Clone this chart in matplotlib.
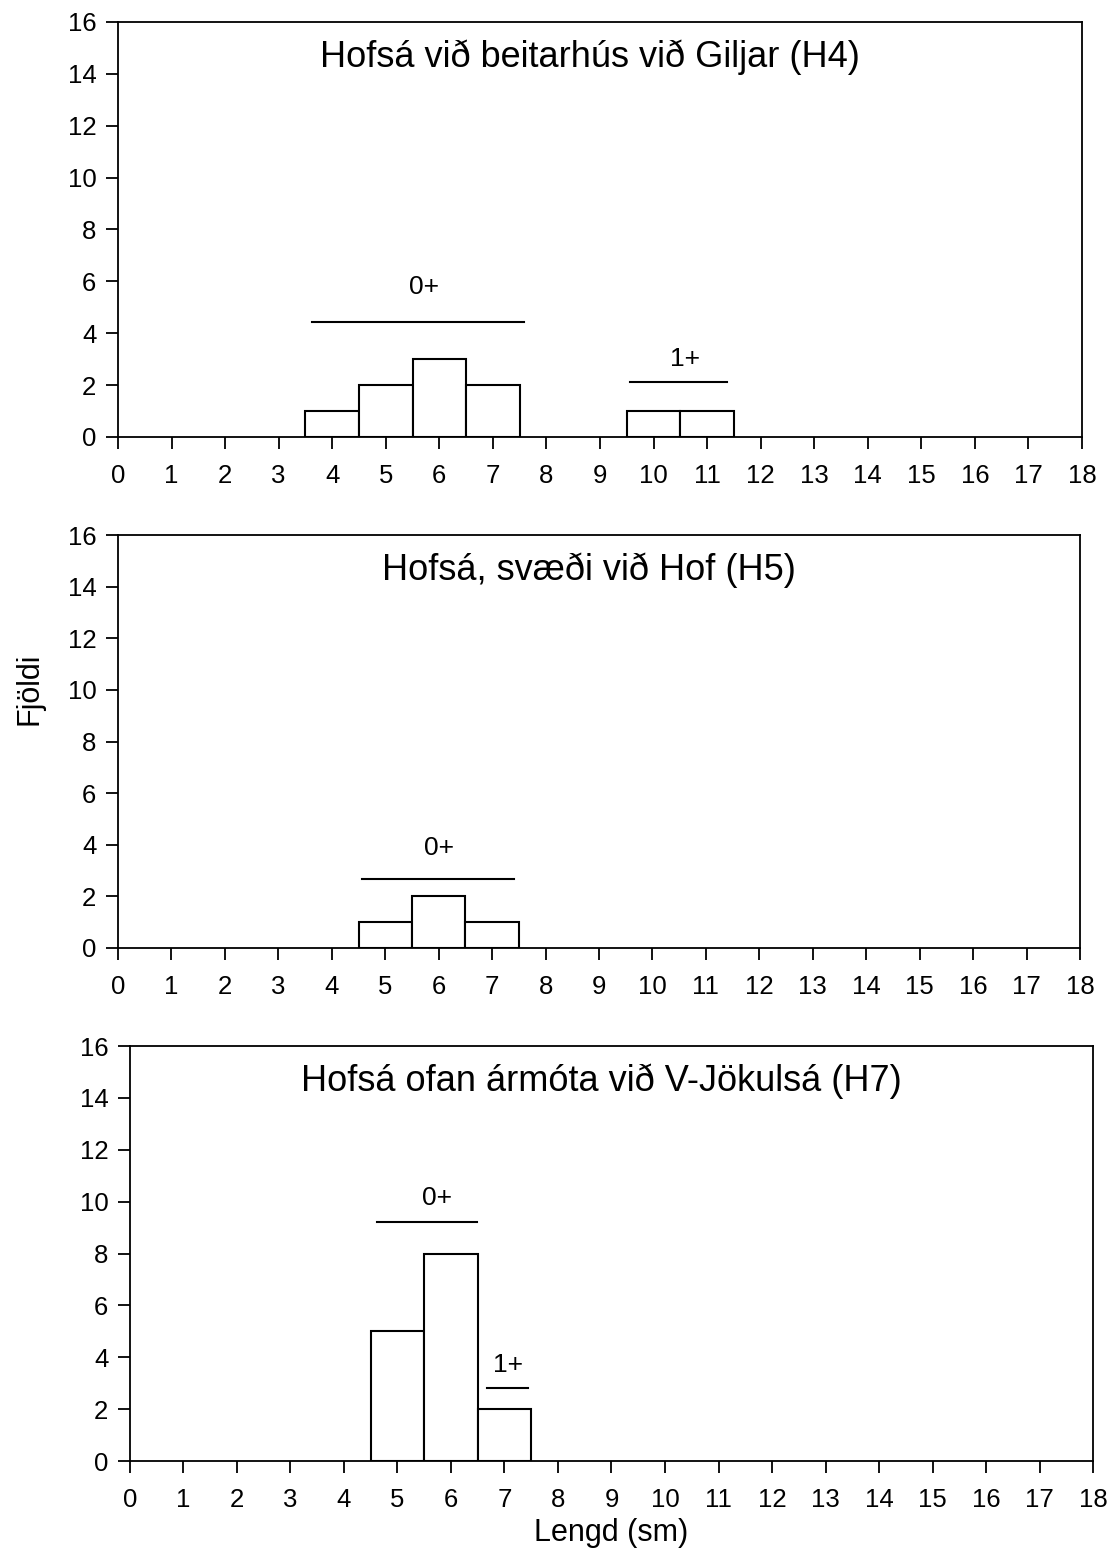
import matplotlib.pyplot as plt

plt.rcParams['font.family'] = ['Liberation Sans', 'DejaVu Sans']

# data
lengths = [4, 5, 6, 7, 10, 11]
h4_counts = [1, 2, 3, 2, 1, 1]
h5_lengths = [5, 6, 7]
h5_counts = [1, 2, 1]
h7_lengths = [5, 6, 7]
h7_counts = [5, 8, 2]

titles = ["Hofsá við beitarhús við Giljar (H4)",
          "Hofsá, svæði við Hof (H5)",
          "Hofsá ofan ármóta við V-Jökulsá (H7)"]

# age-group markers: (label, x0, x1, line y, text x, text y)
h4_groups = [("0+", 3.62, 7.58, 4.45, 5.71, 5.8), ("1+", 9.56, 11.37, 2.11, 10.59, 3.0)]
h5_groups = [("0+", 4.57, 7.41, 2.67, 6.0, 3.87)]
h7_groups = [("0+", 4.61, 6.49, 9.2, 5.73, 10.15), ("1+", 6.68, 7.43, 2.8, 7.07, 3.7)]

fig = plt.figure(figsize=(11.1, 15.49), dpi=100)
rects = [[0.1063, 0.7179, 0.8685, 0.2679],
         [0.1063, 0.3880, 0.8667, 0.2666],
         [0.1171, 0.0568, 0.8676, 0.2679]]
panels = [(lengths, h4_counts, h4_groups),
          (h5_lengths, h5_counts, h5_groups),
          (h7_lengths, h7_counts, h7_groups)]

for rect, (xs, ys, groups), title in zip(rects, panels, titles):
    ax = fig.add_axes(rect)
    ax.bar(xs, ys, width=1.0, facecolor='white', edgecolor='black', linewidth=1.5)
    ax.set_xlim(0, 18)
    ax.set_ylim(0, 16)
    ax.set_xticks(range(0, 19))
    ax.set_yticks(range(0, 17, 2))
    ax.tick_params(direction='out', length=8.5, width=1.3, labelsize=18.5)
    ax.tick_params(axis='x', pad=11)
    ax.tick_params(axis='y', pad=7)
    for sp in ax.spines.values():
        sp.set_linewidth(1.3)
    ax.text(0.49, 0.915, title, transform=ax.transAxes, ha='center', va='center', fontsize=26)
    for lab, x0, x1, ly, tx, ty in groups:
        ax.plot([x0, x1], [ly, ly], color='black', lw=1.5)
        ax.text(tx, ty, lab, ha='center', va='center', fontsize=19)
    if title == titles[2]:
        ax.set_xlabel("Lengd (sm)", fontsize=22, labelpad=4)

fig.text(0.027, 0.555, "Fjöldi", rotation=90, ha='center', va='center', fontsize=22)

fig.savefig("out.png", dpi=100)
